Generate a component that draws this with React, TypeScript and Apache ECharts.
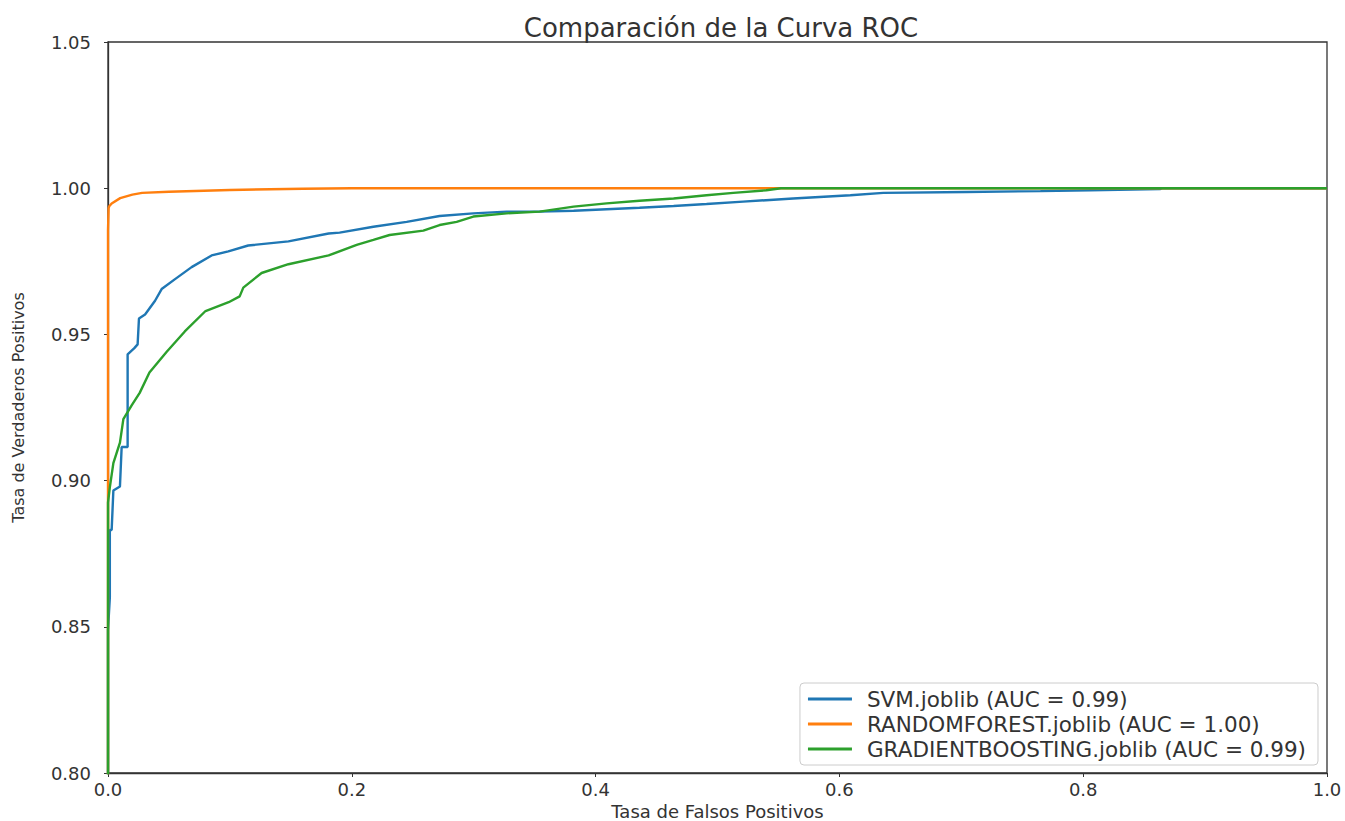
import React, { useEffect, useRef } from "react";
import * as echarts from "echarts";

const seriesNames = [
  "SVM.joblib (AUC = 0.99)",
  "RANDOMFOREST.joblib (AUC = 1.00)",
  "GRADIENTBOOSTING.joblib (AUC = 0.99)",
];
const seriesColors = ["#1f77b4", "#ff7f0e", "#2ca02c"];

const xTicks = [0, 0.2, 0.4, 0.6, 0.8, 1.0];
const yTicks = [0.8, 0.85, 0.9, 0.95, 1.0, 1.05];

// SVM ROC (fpr, tpr)
const svmFpr = [0, 0, 0.0015, 0.0015, 0.003, 0.0044, 0.0098, 0.0112, 0.0161, 0.0161, 0.0216, 0.0243, 0.0254, 0.0304, 0.0386, 0.044, 0.055, 0.0686, 0.085, 0.0987, 0.115, 0.148, 0.181, 0.19, 0.2177, 0.245, 0.272, 0.2997, 0.327, 0.354, 0.382, 0.409, 0.436, 0.464, 0.491, 0.521, 0.562, 0.609, 0.636, 0.704, 0.765, 0.806, 0.863, 0.865, 1.0];
const svmTpr = [0, 0.849, 0.86, 0.8831, 0.8831, 0.8966, 0.898, 0.9115, 0.9115, 0.9432, 0.9453, 0.9466, 0.9554, 0.9568, 0.9615, 0.9655, 0.9689, 0.973, 0.977, 0.9784, 0.9804, 0.9818, 0.9845, 0.9848, 0.9868, 0.9885, 0.9905, 0.9914, 0.992, 0.992, 0.9923, 0.9928, 0.9933, 0.9939, 0.9946, 0.9954, 0.9965, 0.9976, 0.9984, 0.9987, 0.999, 0.9993, 0.9997, 1.0, 1.0];

// Random forest ROC
const rfFpr = [0, 0, 0.0005, 0.001, 0.003, 0.01, 0.02, 0.028, 0.05, 0.1, 0.16, 0.2, 1.0];
const rfTpr = [0, 0.9857, 0.9932, 0.9938, 0.9948, 0.9966, 0.9978, 0.9984, 0.9988, 0.9994, 0.9998, 1.0, 1.0];

// Gradient boosting ROC
const gbFpr = [0, 0, 0.0015, 0.0044, 0.0098, 0.0126, 0.0194, 0.026, 0.034, 0.048, 0.063, 0.08, 0.099, 0.108, 0.111, 0.126, 0.148, 0.181, 0.204, 0.2177, 0.231, 0.2587, 0.272, 0.286, 0.2997, 0.327, 0.354, 0.382, 0.409, 0.436, 0.464, 0.491, 0.513, 0.54, 0.552, 1.0];
const gbTpr = [0, 0.8925, 0.8977, 0.906, 0.913, 0.921, 0.9257, 0.93, 0.937, 0.944, 0.951, 0.958, 0.961, 0.963, 0.966, 0.971, 0.974, 0.977, 0.9806, 0.9823, 0.984, 0.9855, 0.9874, 0.9885, 0.9903, 0.9914, 0.992, 0.9937, 0.9948, 0.9957, 0.9965, 0.9976, 0.9984, 0.9993, 1.0, 1.0];

const zip = (a: number[], b: number[]) => a.map((v, i) => [v, b[i]]);

export default function App() {
  const ref = useRef<HTMLDivElement>(null);
  useEffect(() => {
    if (!ref.current) return;
    const chart = echarts.init(ref.current, null, { renderer: "svg" });
    const font = "DejaVu Sans";
    const textColor = "#333333";
    const data = [zip(svmFpr, svmTpr), zip(rfFpr, rfTpr), zip(gbFpr, gbTpr)];
    chart.setOption({
      animation: false,
      backgroundColor: "#ffffff",
      textStyle: { fontFamily: font },
      title: {
        text: "Comparación de la Curva ROC",
        left: 716,
        textAlign: "center",
        top: 10,
        textStyle: { fontFamily: font, fontSize: 26, fontWeight: "normal", color: textColor },
      },
      grid: {
        left: 108,
        right: 18,
        top: 42,
        bottom: 48,
        outerBoundsMode: "none",
        containLabel: false,
        show: true,
        borderColor: "#333",
        borderWidth: 1.3,
        backgroundColor: "transparent",
      },
      legend: {
        orient: "vertical",
        right: 27,
        bottom: 56,
        data: seriesNames,
        icon: "rect",
        itemWidth: 44,
        itemHeight: 3,
        itemGap: 3,
        padding: [5, 12, 5, 8],
        backgroundColor: "rgba(255,255,255,0.85)",
        borderColor: "#cccccc",
        borderWidth: 1,
        borderRadius: 4,
        textStyle: { fontFamily: font, fontSize: 21.5, color: textColor, padding: [0, 0, 0, 10] },
      },
      xAxis: {
        type: "value",
        min: xTicks[0],
        max: xTicks[xTicks.length - 1],
        interval: 0.2,
        name: "Tasa de Falsos Positivos",
        nameLocation: "middle",
        nameGap: 20,
        nameTextStyle: { fontFamily: font, fontSize: 18, lineHeight: 18, color: textColor },
        axisLine: { show: true, onZero: false, lineStyle: { color: "#333", width: 1.3 } },
        axisTick: { show: true, inside: false, length: 4, lineStyle: { color: "#333" } },
        axisLabel: {
          margin: 7,
          fontFamily: font,
          fontSize: 18,
          color: textColor,
          formatter: (v: number) => v.toFixed(1),
        },
        splitLine: { show: false },
      },
      yAxis: {
        type: "value",
        min: yTicks[0],
        max: yTicks[yTicks.length - 1],
        interval: 0.05,
        name: "Tasa de Verdaderos Positivos",
        nameLocation: "middle",
        nameGap: 82,
        nameTextStyle: { fontFamily: font, fontSize: 16, color: textColor },
        axisLine: { show: true, onZero: false, lineStyle: { color: "#333", width: 1.3 } },
        axisTick: { show: true, inside: false, length: 4, lineStyle: { color: "#333" } },
        axisLabel: {
          margin: 17,
          fontFamily: font,
          fontSize: 18,
          color: textColor,
          formatter: (v: number) => v.toFixed(2),
        },
        splitLine: { show: false },
      },
      series: data.map((d, i) => ({
        name: seriesNames[i],
        type: "line",
        data: d,
        showSymbol: false,
        symbol: "none",
        clip: true,
        lineStyle: { color: seriesColors[i], width: 2.4 },
        itemStyle: { color: seriesColors[i] },
        z: 2 + i,
      })),
    });
    return () => chart.dispose();
  }, []);
  return (
    <div
      ref={ref}
      style={{ position: "fixed", left: 0, top: 0, width: 1345, height: 821 }}
    />
  );
}
